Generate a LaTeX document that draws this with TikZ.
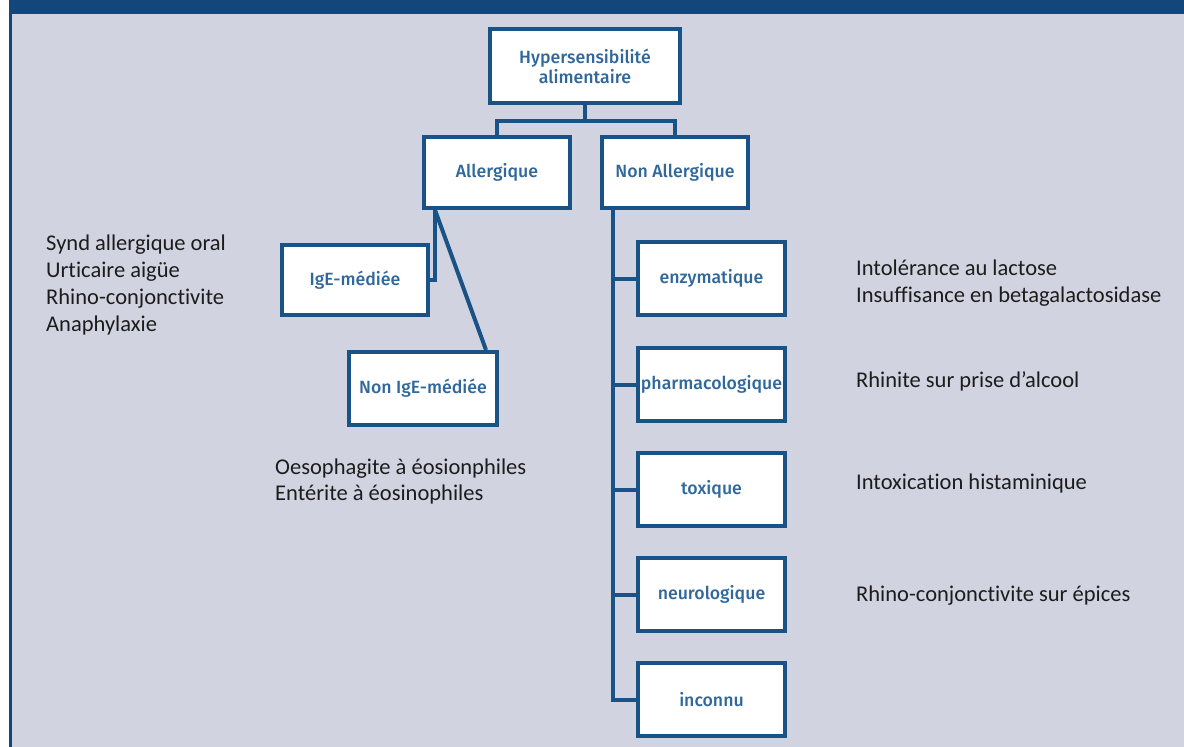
\documentclass[tikz,border=0pt]{standalone}
\usepackage{fontspec}
\setmainfont{Carlito}[RawFeature={-liga}]
\newfontfamily\boxfont{Fira Sans Medium}
\usetikzlibrary{calc}
\definecolor{hdrblue}{RGB}{19,70,122}
\definecolor{edgeblue}{RGB}{24,82,134}
\definecolor{labelblue}{RGB}{48,104,156}
\definecolor{panel}{RGB}{210,211,224}
\definecolor{ink}{RGB}{28,28,28}
\tikzset{
  box/.style={draw=edgeblue, line width=4pt, fill=white, minimum width=146pt,
    minimum height=71pt, inner sep=2pt, font=\boxfont\fontsize{17.7}{20}\selectfont,
    text=labelblue, align=center},
  link/.style={draw=edgeblue, line width=4pt, line join=miter},
  note/.style={anchor=base west, inner sep=0pt, text=ink, font=\fontsize{22.5}{27}\selectfont}
}
\begin{document}
\begin{tikzpicture}[x=1pt, y=-1pt]
  % page, panel and frame
  \fill[white] (0,0) rectangle (1184,747);
  \fill[panel] (9,0) rectangle (1184,747);
  \fill[hdrblue] (9,0) rectangle (1184,14);
  \fill[hdrblue] (9,14) rectangle (12,747);
  \useasboundingbox (0,0) rectangle (1184,747);

  % tree boxes
  \node[box, minimum width=190pt, minimum height=74pt] (top) at (585,66) {Hypersensibilité\\alimentaire};
  \node[box] (all) at (497,172.5) {Allergique};
  \node[box] (nonall) at (675,172.5) {Non Allergique};
  \node[box, minimum height=70pt] (ige) at (355,280) {IgE-médiée};
  \node[box, minimum width=148pt, minimum height=73pt] (nonige) at (423,388.5) {Non IgE-médiée};
  \node[box, minimum width=147pt, minimum height=73pt] (enz) at (711.5,278.5) {enzymatique};
  \node[box, minimum width=147pt, minimum height=73pt, inner sep=0pt] (pharm) at (711.5,384.5) {pharmacologique};
  \node[box, minimum width=147pt, minimum height=73pt] (tox) at (711.5,489.5) {toxique};
  \node[box, minimum width=147pt, minimum height=73pt] (neuro) at (711.5,594.5) {neurologique};
  \node[box, minimum width=147pt, minimum height=73pt] (inc) at (711.5,699.5) {inconnu};

  % connectors
  \coordinate (bus) at ($(top.south)+(0,16)$);
  \draw[link] (top.south) -- (bus);
  \draw[link] (all.north) |- (bus) -| (nonall.north);
  \coordinate (afoot) at ($(all.south west)+(13,0)$);
  \draw[link] (afoot) |- (ige.east);
  \draw[link] (afoot) -- ($(nonige.north east)+(-13,0)$);
  \coordinate (spine) at ($(nonall.south west)+(13,0)$);
  \draw[link] (spine) |- (inc.west);
  \foreach \b in {enz,pharm,tox,neuro}
    \draw[link] (spine |- \b.west) -- (\b.west);

  % notes
  \node[note] (n1) at (46,250) {Synd allergique oral};
  \node[note] (n2) at (46,277) {Urticaire aigüe};
  \node[note] (n3) at (46,304) {Rhino-conjonctivite};
  \node[note] (n4) at (46,331) {Anaphylaxie};
  \node[note] (n5) at (275,474) {Oesophagite à éosionphiles};
  \node[note] (n6) at (275,500) {Entérite à éosinophiles};
  \node[note] (n7) at (856,275) {Intolérance au lactose};
  \node[note] (n8) at (856,302) {Insuffisance en betagalactosidase};
  \node[note] (n9) at (856,387) {Rhinite sur prise d’alcool};
  \node[note] (n10) at (856,489) {Intoxication histaminique};
  \node[note] (n11) at (856,601) {Rhino-conjonctivite sur épices};
\end{tikzpicture}
\end{document}
